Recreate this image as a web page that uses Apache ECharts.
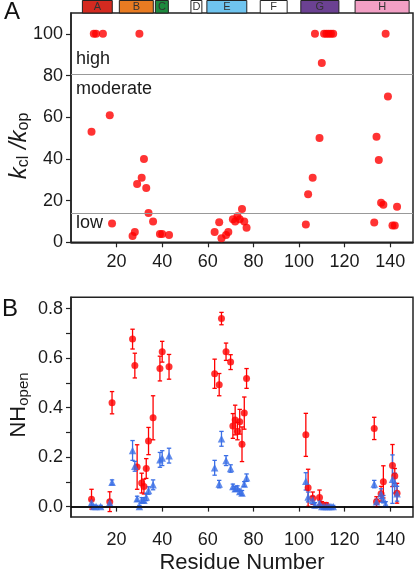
<!DOCTYPE html>
<html>
<head>
<meta charset="utf-8">
<script src="https://cdn.jsdelivr.net/npm/echarts@6/dist/echarts.min.js"></script>
<style>
html,body{margin:0;padding:0;background:#fff;}
#chart{width:415px;height:575px;}
</style>
</head>
<body>
<div id="chart"></div>
<script>
// ---------- DATA ----------
// Helix segments (residue ranges) shown above panel A
const helixLabels = ['A','B','C','D','E','F','G','H'];
const helixStart  = [5, 21.2, 37, 52.6, 59.6, 83, 100.8, 124.6];
const helixEnd    = [18.1, 36.1, 42.7, 57.4, 77.1, 94.8, 117.5, 148.3];

// Panel A: kcl/kop per residue
const residuesA = [9, 10, 11, 14, 17, 18, 27, 28, 29, 30, 31, 32, 33, 34, 36, 39, 40, 43,
                   63, 65, 66, 68, 69, 71, 72, 73, 74, 75, 76, 77,
                   103, 104, 106, 107, 109, 110, 111, 112, 113, 114, 115,
                   133, 134, 135, 136, 137, 138, 139, 141, 142, 143];
const ratioA    = [53, 100, 100, 100, 61, 9, 3, 5, 28, 100, 31, 40, 26, 14, 10, 4, 4, 3.5,
                   5, 9.6, 2, 3.5, 5, 11, 10, 12.5, 11, 16, 10, 7,
                   8.5, 23, 31, 100, 50, 86, 100, 100, 100, 100, 100,
                   9.5, 50.6, 39.5, 19, 18, 100, 70, 8, 8, 17];
const highCut = 80.5;
const lowCut = 14;

// Panel B: NH_open (red circles) with errors
const residuesRed = [9, 17, 18, 27, 28, 29, 31, 32, 33, 34, 36, 39, 40, 43,
                     63, 65, 66, 68, 70, 71, 72, 73, 74, 75, 76, 77,
                     103, 104, 106, 109, 110, 112,
                     133, 134, 136, 137, 141, 142, 143];
const valuesRed   = [0.03, 0.02, 0.42, 0.677, 0.57, 0.16, 0.095, 0.081, 0.154, 0.265, 0.359, 0.558, 0.626, 0.565,
                     0.537, 0.493, 0.76, 0.626, 0.584, 0.326, 0.35, 0.305, 0.343, 0.252, 0.378, 0.518,
                     0.29, 0.076, 0.034, 0.037, 0.01, 0.005,
                     0.316, 0.02, 0.052, 0.10, 0.166, 0.124, 0.054];
const errorsRed   = [0.04, 0.04, 0.045, 0.04, 0.05, 0.09, 0.04, 0.03, 0.04, 0.055, 0.089, 0.05, 0.042, 0.05,
                     0.059, 0.045, 0.025, 0.035, 0.03, 0.05, 0.06, 0.035, 0.05, 0.07, 0.065, 0.04,
                     0.087, 0.075, 0.025, 0.03, 0.01, 0.01,
                     0.045, 0.02, 0.03, 0.065, 0.085, 0.03, 0.04];

// Panel B: NH_open (blue triangles) with errors
const residuesBlue = [9, 10, 11, 13, 17, 18, 27, 28, 29, 30, 31, 32, 33, 34, 36, 39, 40, 43,
                      63, 65, 66, 68, 70, 71, 72, 73, 74, 75, 76, 77,
                      103, 104, 106, 107, 109, 110, 111, 112, 113, 114, 115,
                      133, 134, 136, 137, 138, 141, 142, 143];
const valuesBlue   = [0.016, 0.0, 0.0, 0.0, 0.016, 0.098, 0.227, 0.163, 0.032, 0.0, 0.026, 0.026, 0.039, 0.065, 0.088, 0.189, 0.196, 0.206,
                      0.157, 0.091, 0.274, 0.186, 0.154, 0.081, 0.072, 0.074, 0.061, 0.055, 0.091, 0.117,
                      0.102, 0.039, 0.026, 0.006, 0.013, 0.0, 0.0, 0.0, 0.0, 0.0, 0.0,
                      0.091, 0.02, 0.052, 0.03, 0.01, 0.111, 0.095, 0.052];
const errorsBlue   = [0.01, 0.005, 0.005, 0.005, 0.01, 0.01, 0.04, 0.02, 0.01, 0.005, 0.01, 0.01, 0.015, 0.015, 0.02, 0.03, 0.03, 0.03,
                      0.03, 0.015, 0.03, 0.02, 0.015, 0.01, 0.01, 0.01, 0.01, 0.01, 0.01, 0.015,
                      0.035, 0.02, 0.015, 0.01, 0.01, 0.005, 0.005, 0.005, 0.005, 0.005, 0.005,
                      0.015, 0.01, 0.02, 0.015, 0.01, 0.098, 0.04, 0.03];

// Tick values
const xTicks = [20, 40, 60, 80, 100, 120, 140];
const yTicksA = [0, 20, 40, 60, 80, 100];
const yLabelsB = [0, 0.2, 0.4, 0.6, 0.8];
const yTicksB = [0, 0.1, 0.2, 0.3, 0.4, 0.5, 0.6, 0.7, 0.8];

// ---------- STYLES ----------
const helixColors = ['#d42a20', '#e87b22', '#1e8a3e', '#ffffff', '#6fc4ef', '#ffffff', '#6b4192', '#f2a0c5'];
const FONT = 'Liberation Sans, Arial, Helvetica, sans-serif';
const RED = '#ff0000';
const BLUE = '#3b6fe6';
const AXIS = '#222';

const chart = echarts.init(document.getElementById('chart'), null, {renderer: 'canvas'});

function errRender(color) {
  return function (params, api) {
    const x = api.value(0), y = api.value(1), e = api.value(2);
    const t = api.coord([x, y + e]);
    const b = api.coord([x, y - e]);
    const w = 2.2;
    const st = {stroke: color, lineWidth: 1.3};
    return {type: 'group', children: [
      {type: 'line', shape: {x1: t[0], y1: t[1], x2: b[0], y2: b[1]}, style: st},
      {type: 'line', shape: {x1: t[0] - w, y1: t[1], x2: t[0] + w, y2: t[1]}, style: st},
      {type: 'line', shape: {x1: b[0] - w, y1: b[1], x2: b[0] + w, y2: b[1]}, style: st}
    ]};
  };
}

const valueAxisCommon = {
  axisLine: {show: true, lineStyle: {color: AXIS, width: 1.5}},
  axisTick: {show: true, length: 5, lineStyle: {color: AXIS, width: 1.2}},
  splitLine: {show: false},
  axisLabel: {color: '#1a1a1a', fontSize: 18, fontFamily: FONT, margin: 8}
};

const option = {
  animation: false,
  backgroundColor: '#fff',
  grid: [
    {left: 71, right: 2, top: 0, height: 13},
    {left: 71, right: 2, top: 13, height: 229.3, show: true, borderColor: AXIS, borderWidth: 1.5},
    {left: 71, right: 2, top: 297.3, bottom: 51, show: true, borderColor: AXIS, borderWidth: 1.5}
  ],
  xAxis: [
    {gridIndex: 0, type: 'value', min: 0, max: 150, show: false},
    Object.assign({}, valueAxisCommon, {gridIndex: 1, type: 'value', min: 0, max: 150,
      axisTick: Object.assign({}, valueAxisCommon.axisTick, {customValues: xTicks}),
      axisLabel: Object.assign({}, valueAxisCommon.axisLabel, {customValues: xTicks, margin: 11})}),
    Object.assign({}, valueAxisCommon, {gridIndex: 2, type: 'value', min: 0, max: 150,
      axisTick: Object.assign({}, valueAxisCommon.axisTick, {customValues: xTicks}),
      axisLabel: Object.assign({}, valueAxisCommon.axisLabel, {customValues: xTicks, margin: 14}),
      name: 'Residue Number', nameLocation: 'middle', nameGap: 35,
      nameTextStyle: {fontSize: 22, fontFamily: FONT, color: '#1a1a1a'}})
  ],
  yAxis: [
    {gridIndex: 0, type: 'value', min: 0, max: 1, show: false},
    Object.assign({}, valueAxisCommon, {gridIndex: 1, type: 'value', min: 0, max: 110,
      axisTick: Object.assign({}, valueAxisCommon.axisTick, {customValues: yTicksA}),
      axisLabel: Object.assign({}, valueAxisCommon.axisLabel, {customValues: yTicksA})}),
    Object.assign({}, valueAxisCommon, {gridIndex: 2, type: 'value', min: -0.042, max: 0.846,
      axisTick: Object.assign({}, valueAxisCommon.axisTick, {customValues: yTicksB}),
      axisLabel: Object.assign({}, valueAxisCommon.axisLabel, {customValues: yLabelsB,
        formatter: v => Number(v).toFixed(1)})})
  ],
  graphic: [
    {type: 'text', x: 12, y: 12, style: {text: 'A', font: '24px ' + FONT, fill: '#111', align: 'center', verticalAlign: 'middle'}},
    {type: 'text', x: 10, y: 309, style: {text: 'B', font: '24px ' + FONT, fill: '#111', align: 'center', verticalAlign: 'middle'}},
    {type: 'text', x: 19, y: 146, rotation: Math.PI / 2, style: {
      text: '{k|k}{s|cl}{k| /k}{s|op}', align: 'center', verticalAlign: 'middle',
      rich: {
        k: {fontSize: 24, fontStyle: 'italic', fontFamily: FONT, fill: '#1a1a1a', lineHeight: 26},
        s: {fontSize: 16, fontFamily: FONT, fill: '#1a1a1a', verticalAlign: 'bottom', lineHeight: 26, padding: [6, 0, 0, 0]}
      }}},
    {type: 'text', x: 19, y: 405, rotation: Math.PI / 2, style: {
      text: '{n|NH}{s|open}', align: 'center', verticalAlign: 'middle',
      rich: {
        n: {fontSize: 22, fontFamily: FONT, fill: '#1a1a1a', lineHeight: 24},
        s: {fontSize: 15, fontFamily: FONT, fill: '#1a1a1a', verticalAlign: 'bottom', lineHeight: 24, padding: [6, 0, 0, 0]}
      }}},
    {type: 'text', x: 76, y: 58.7, style: {text: 'high', font: '18px ' + FONT, fill: '#1a1a1a', align: 'left', verticalAlign: 'middle'}},
    {type: 'text', x: 76, y: 89.4, style: {text: 'moderate', font: '18px ' + FONT, fill: '#1a1a1a', align: 'left', verticalAlign: 'middle'}},
    {type: 'text', x: 76, y: 223, style: {text: 'low', font: '18px ' + FONT, fill: '#1a1a1a', align: 'left', verticalAlign: 'middle'}}
  ],
  series: [
    {
      type: 'custom', xAxisIndex: 0, yAxisIndex: 0,
      encode: {x: [0, 1]},
      data: helixStart.map((s, i) => [s, helixEnd[i]]),
      renderItem: function (params, api) {
        const i = params.dataIndex;
        const p0 = api.coord([api.value(0), 1]);
        const p1 = api.coord([api.value(1), 0]);
        return {type: 'group', children: [
          {type: 'rect', shape: {x: p0[0], y: p0[1] + 0.5, width: p1[0] - p0[0], height: p1[1] - p0[1] - 0.5},
           style: {fill: helixColors[i], stroke: '#222', lineWidth: 1}},
          {type: 'text', style: {text: helixLabels[i], x: (p0[0] + p1[0]) / 2, y: (p0[1] + p1[1]) / 2,
            align: 'center', verticalAlign: 'middle', fill: '#333', fontSize: 11, fontFamily: FONT}}
        ]};
      }
    },
    {
      type: 'scatter', xAxisIndex: 1, yAxisIndex: 1,
      data: residuesA.map((r, i) => [r, ratioA[i]]),
      symbol: 'circle', symbolSize: 8,
      itemStyle: {color: RED},
      markLine: {
        silent: true, symbol: 'none', label: {show: false},
        lineStyle: {color: '#999', width: 1, type: 'solid'},
        data: [{yAxis: highCut}, {yAxis: lowCut}]
      }
    },
    {
      type: 'custom', xAxisIndex: 2, yAxisIndex: 2,
      data: residuesRed.map((r, i) => [r, valuesRed[i], errorsRed[i]]),
      renderItem: errRender(RED),
      markLine: {
        silent: true, symbol: 'none', label: {show: false},
        lineStyle: {color: '#000', width: 1.5, type: 'solid'},
        data: [{yAxis: 0}]
      }
    },
    {
      type: 'scatter', xAxisIndex: 2, yAxisIndex: 2,
      data: residuesRed.map((r, i) => [r, valuesRed[i]]),
      symbol: 'circle', symbolSize: 7, itemStyle: {color: RED}
    },
    {
      type: 'custom', xAxisIndex: 2, yAxisIndex: 2,
      data: residuesBlue.map((r, i) => [r, valuesBlue[i], errorsBlue[i]]),
      renderItem: errRender(BLUE)
    },
    {
      type: 'scatter', xAxisIndex: 2, yAxisIndex: 2,
      data: residuesBlue.map((r, i) => [r, valuesBlue[i]]),
      symbol: 'triangle', symbolSize: 7.5, itemStyle: {color: BLUE}
    }
  ]
};
chart.setOption(option);
</script>
</body>
</html>
